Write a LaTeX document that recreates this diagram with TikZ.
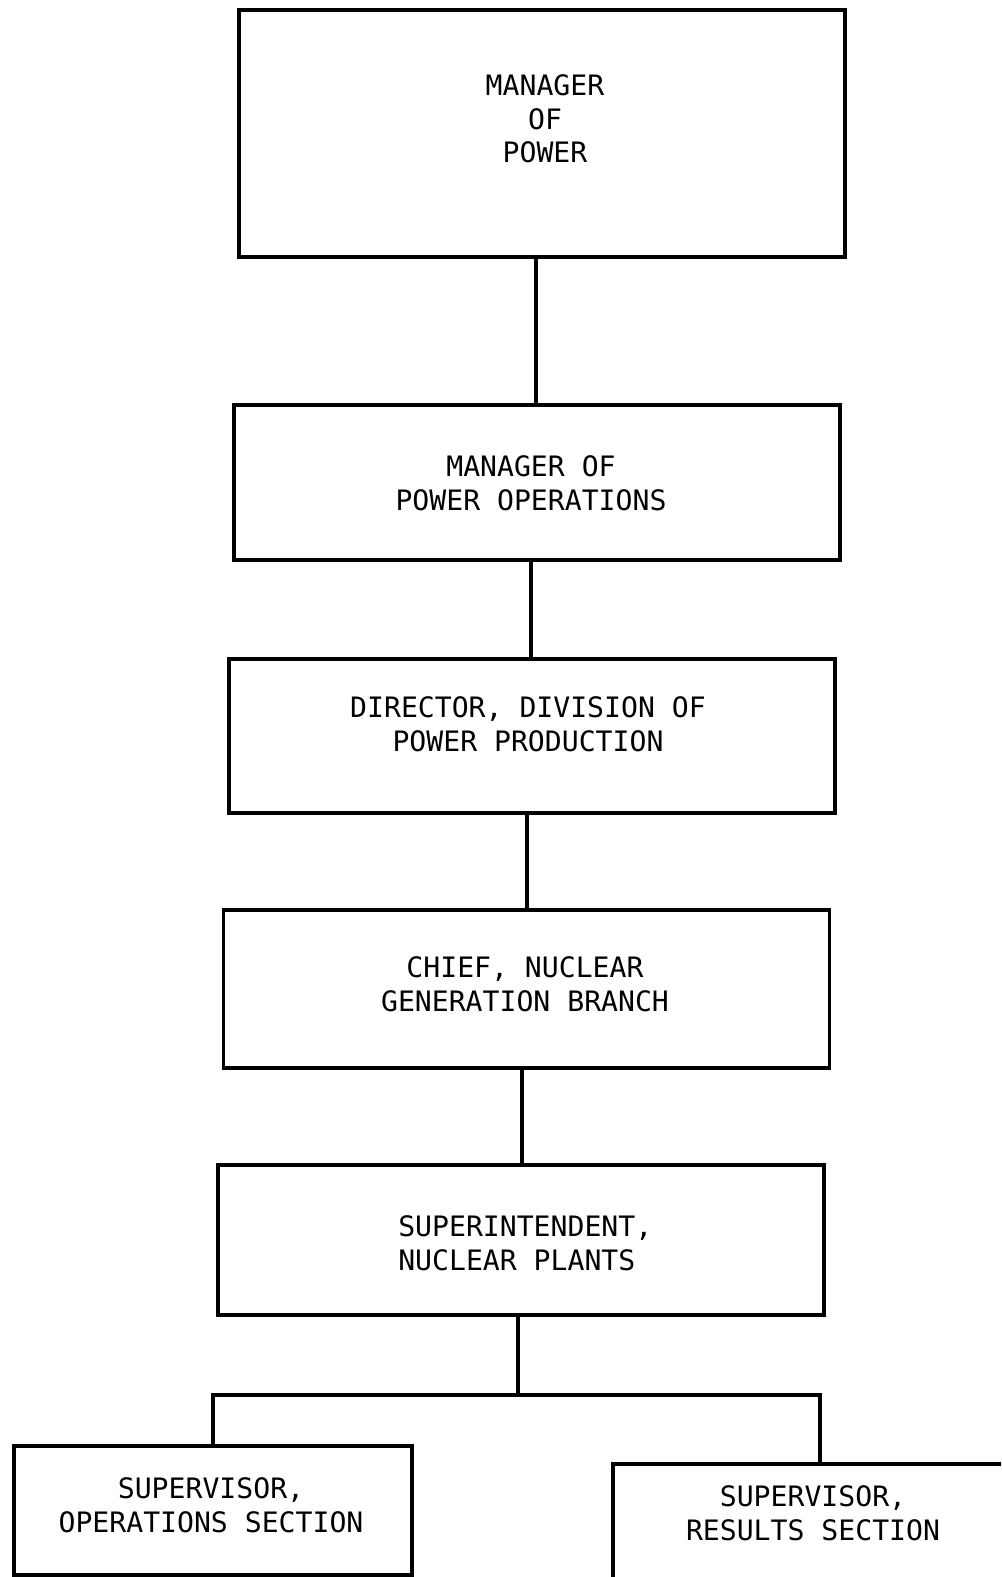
\documentclass[tikz,border=0pt]{standalone}
\usepackage{fontspec}
\setmonofont{DejaVu Sans Mono}
\begin{document}
\begin{tikzpicture}[x=0.025cm,y=-0.025cm,
    puesto/.style={draw,line width=2.6pt,inner sep=0pt,minimum width=15.15cm},
    rotulo/.style={font=\ttfamily\fontsize{20}{24}\selectfont,align=center,inner sep=0pt},
    enlace/.style={line width=2.6pt}]
    \useasboundingbox[fill=white] (0,0) rectangle (1001,1577);
    \clip (0,0) rectangle (1001,1577);

    % cadena de mando
    \node[puesto,minimum height=6.175cm] (b1) at (542,133.5) {};
    \node[rotulo] (t1) at (545,119) {MANAGER\\OF\\POWER};

    \node[puesto,minimum height=3.875cm] (b2) at (537,482.5) {};
    \node[rotulo] (t2) at (531,483) {MANAGER OF\\POWER OPERATIONS};

    \node[puesto,minimum height=3.85cm] (b3) at (532,736) {};
    \node[rotulo] (t3) at (528,724) {DIRECTOR, DIVISION OF\\POWER PRODUCTION};

    \node[puesto,minimum height=3.95cm] (b4) at (526.5,989) {};
    \node[rotulo] (t4) at (525,984) {CHIEF, NUCLEAR\\GENERATION BRANCH};

    \node[puesto,minimum height=3.75cm] (b5) at (521,1240) {};
    \node[rotulo,align=left,anchor=west] (t5) at (398,1243) {SUPERINTENDENT,\\NUCLEAR PLANTS};

    % secciones
    \node[puesto,minimum width=9.95cm,minimum height=3.225cm] (s1) at (213,1510.5) {};
    \node[rotulo] (t6) at (211,1505) {SUPERVISOR,\\OPERATIONS SECTION};

    \node[puesto,minimum width=10.35cm,minimum height=3.25cm] (s2) at (820,1529) {};
    \node[rotulo] (t7) at (813,1513) {SUPERVISOR,\\RESULTS SECTION};

    % lineas
    \coordinate (j1) at (536,0);
    \coordinate (j2) at (531,0);
    \coordinate (j3) at (527,0);
    \coordinate (j4) at (522,0);
    \coordinate (fork) at (518,1395);
    \foreach \a/\b/\j in {b1/b2/j1,b2/b3/j2,b3/b4/j3,b4/b5/j4}{
      \draw[enlace] (\a.south -| \j) -- (\b.north -| \j);
    }
    \draw[enlace] (b5.south -| fork) -- (fork);
    \draw[enlace] (s1.north) |- (fork) -| (s2.north);
\end{tikzpicture}
\end{document}
